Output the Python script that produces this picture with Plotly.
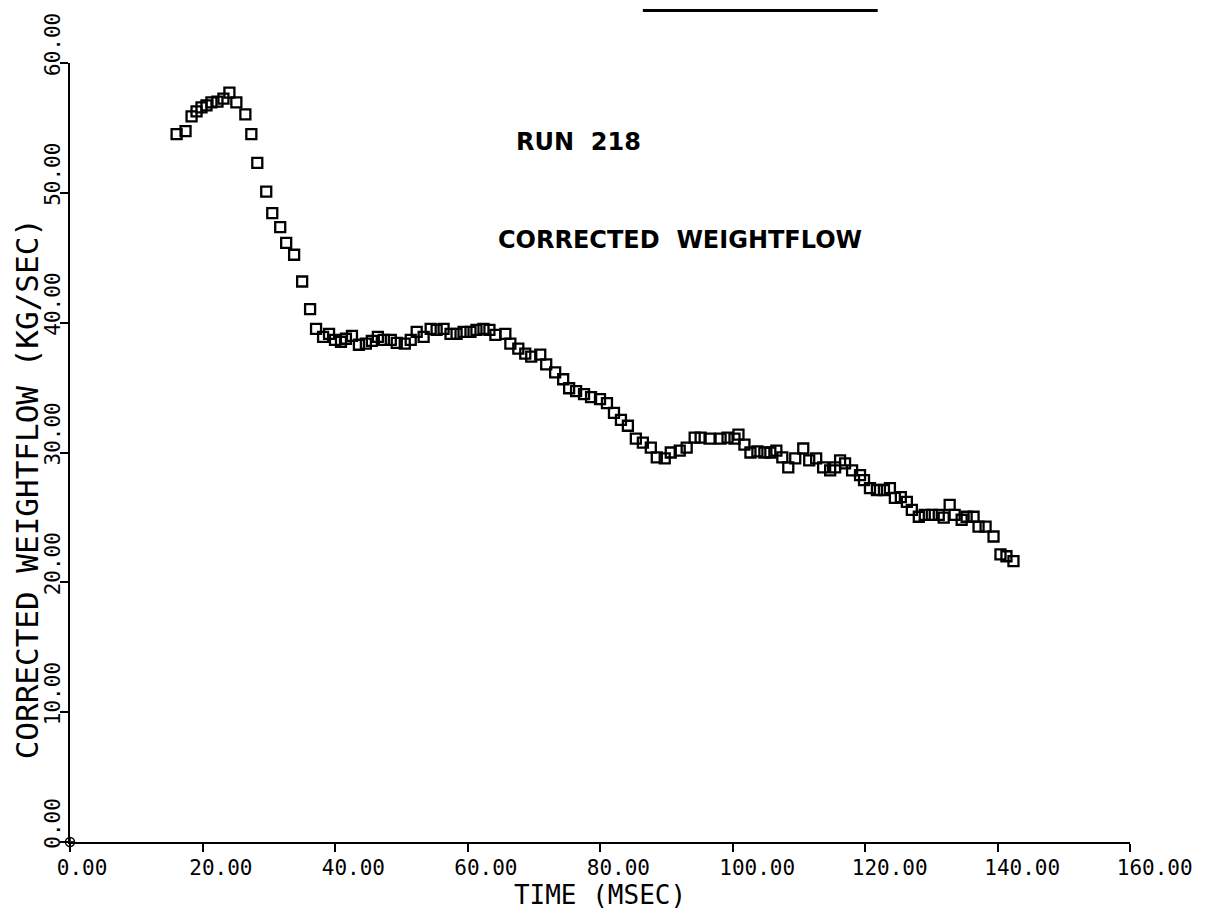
import plotly.graph_objects as go

# Data (time in msec, corrected weightflow in kg/sec)
time_ms = [16.09, 17.44, 18.35, 19.10, 19.85, 20.60, 21.35, 22.26, 23.16, 24.06,
           25.11, 26.47, 27.37, 28.27, 29.62, 30.53, 31.73, 32.63, 33.83, 35.04,
           36.24, 37.14, 38.20, 39.10, 40.00, 40.90, 41.65, 42.56, 43.61, 44.66,
           45.56, 46.47, 47.37, 48.42, 49.32, 50.53, 51.43, 52.33, 53.38, 54.44,
           55.34, 56.39, 57.44, 58.35, 59.40, 60.45, 61.35, 62.41, 63.31, 64.21,
           65.71, 66.47, 67.67, 68.72, 69.62, 70.98, 71.88, 73.23, 74.44, 75.34,
           76.39, 77.59, 78.65, 80.00, 81.05, 82.11, 83.16, 84.21, 85.41, 86.47,
           87.67, 88.57, 89.77, 90.68, 92.03, 93.08, 94.29, 95.19, 96.54, 98.20,
           99.25, 100.30, 100.90, 101.80, 102.71, 103.76, 104.81, 105.71, 106.62, 107.52,
           108.42, 109.47, 110.68, 111.58, 112.63, 113.68, 114.74, 115.49, 116.24, 116.99,
           118.05, 119.25, 119.85, 120.75, 121.80, 122.86, 123.76, 124.51, 125.41, 126.32,
           127.07, 128.12, 129.02, 130.08, 131.13, 131.88, 132.78, 133.53, 134.59, 135.34,
           136.39, 137.14, 138.20, 139.40, 140.45, 141.35, 142.41]
weightflow = [54.52, 54.75, 55.89, 56.27, 56.58, 56.73, 56.96, 57.03, 57.26, 57.72,
              56.96, 56.04, 54.52, 52.31, 50.10, 48.43, 47.36, 46.14, 45.23, 43.17,
              41.04, 39.52, 38.91, 39.14, 38.68, 38.53, 38.76, 38.99, 38.30, 38.38,
              38.60, 38.91, 38.68, 38.68, 38.45, 38.38, 38.68, 39.29, 38.91, 39.52,
              39.44, 39.52, 39.14, 39.14, 39.29, 39.29, 39.44, 39.52, 39.44, 39.06,
              39.14, 38.38, 38.00, 37.61, 37.39, 37.54, 36.78, 36.17, 35.64, 34.95,
              34.72, 34.49, 34.26, 34.11, 33.81, 33.05, 32.51, 32.06, 31.07, 30.76,
              30.38, 29.62, 29.54, 30.00, 30.15, 30.38, 31.14, 31.14, 31.07, 31.07,
              31.14, 31.07, 31.37, 30.61, 30.00, 30.08, 30.00, 30.00, 30.15, 29.62,
              28.86, 29.54, 30.31, 29.39, 29.54, 28.86, 28.63, 28.86, 29.39, 29.16,
              28.63, 28.25, 27.87, 27.26, 27.11, 27.11, 27.26, 26.50, 26.57, 26.19,
              25.58, 25.05, 25.20, 25.20, 25.20, 24.98, 25.96, 25.20, 24.82, 25.05,
              25.05, 24.29, 24.29, 23.53, 22.16, 22.01, 21.63]

origin_x = [0]
origin_y = [0]

x_ticks = [0, 20, 40, 60, 80, 100, 120, 140, 160]
x_tick_labels = ["0.00", "20.00", "40.00", "60.00", "80.00", "100.00", "120.00", "140.00", "160.00"]
y_ticks = [0, 10, 20, 30, 40, 50, 60]
y_tick_labels = ["0.00", "10.00", "20.00", "30.00", "40.00", "50.00", "60.00"]

x_title = "TIME (MSEC)"
y_title = "CORRECTED WEIGHTFLOW (KG/SEC)"
run_label = "RUN\u00a0\u00a0218"
chart_label = "CORRECTED\u00a0\u00a0WEIGHTFLOW"

MONO = "DejaVu Sans Mono"

fig = go.Figure()
fig.add_trace(go.Scatter(
    x=time_ms, y=weightflow, mode="markers",
    marker=dict(symbol="square-open", size=10, color="black", line=dict(width=2.3, color="black")),
    showlegend=False, cliponaxis=False,
))
fig.add_trace(go.Scatter(
    x=origin_x, y=origin_y, mode="markers",
    marker=dict(symbol="circle-cross-open", size=9, color="black", line=dict(width=1.5, color="black")),
    showlegend=False, cliponaxis=False,
))

fig.update_layout(
    width=1205, height=910,
    margin=dict(l=70, r=71, t=63, b=59),
    paper_bgcolor="white", plot_bgcolor="white",
    font=dict(family=MONO, color="black"),
    xaxis=dict(
        range=[0, 160], tickmode="array", tickvals=x_ticks, ticktext=x_tick_labels,
        showgrid=False, zeroline=False, showline=True, linecolor="black", linewidth=2,
        ticks="outside", ticklen=8, tickwidth=1.5, tickcolor="black",
        tickfont=dict(family=MONO, size=21, color="black"),
        ticklabelposition="outside right", ticklabelshift=-15, ticklabelstandoff=6,
        title=dict(text=x_title, font=dict(family=MONO, size=26, color="black"), standoff=0),
    ),
    yaxis=dict(
        range=[0, 60], tickmode="array", tickvals=y_ticks, ticktext=y_tick_labels,
        showgrid=False, zeroline=False, showline=True, linecolor="black", linewidth=2,
        ticks="outside", ticklen=8, tickwidth=1.5, tickcolor="black",
        tickfont=dict(family=MONO, size=21, color="black"),
        tickangle=-90, ticklabelposition="outside top",
    ),
    annotations=[
        dict(text=y_title, textangle=-90, xref="paper", yref="paper",
             x=-0.0404, y=0.453, xanchor="center", yanchor="middle", showarrow=False,
             font=dict(family=MONO, size=31, color="black")),
        dict(text=run_label, xref="x", yref="y", x=76.7, y=53.9, showarrow=False,
             xanchor="center", yanchor="middle",
             font=dict(family="DejaVu Sans", size=24, color="black", weight="bold")),
        dict(text=chart_label, xref="x", yref="y", x=92.0, y=46.4, showarrow=False,
             xanchor="center", yanchor="middle",
             font=dict(family="DejaVu Sans", size=24, color="black", weight="bold")),
    ],
    shapes=[
        dict(type="line", xref="paper", yref="paper", x0=0.5404, x1=0.7620, y0=1.0673, y1=1.0673,
             line=dict(color="black", width=3)),
    ],
)

fig.write_html("out.html")
